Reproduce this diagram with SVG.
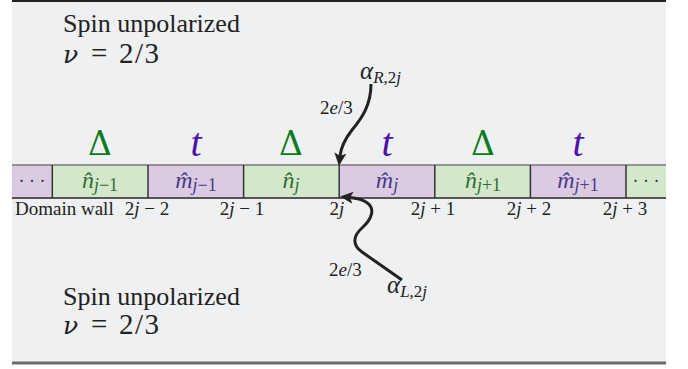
<svg xmlns="http://www.w3.org/2000/svg" width="688" height="369" viewBox="0 0 688 369">
<style>
.serif{font-family:"Liberation Serif","Times New Roman",serif;}
.it{font-style:italic;}
.nu{font-family:"DejaVu Serif",serif;font-style:italic;font-size:25px;}
.big{font-size:26px;fill:#222;}
.delta{font-family:"DejaVu Serif",serif;font-size:33px;fill:#0d7a20;}
.tt{font-size:40px;fill:#4d12a6;font-style:italic;}
.cg{fill:#d3e8cb;}
.cp{fill:#dacbe3;}
.lg{font-size:24px;fill:#336b36;}
.lp{font-size:24px;fill:#4a3a86;}
.sub{font-size:18px;}
.pos{font-size:19px;fill:#222;}
.div{stroke:#333;stroke-width:1.5;}
.arr{fill:none;stroke:#222;stroke-width:3;}
</style>
<defs>
<marker id="ah" markerUnits="userSpaceOnUse" markerWidth="14" markerHeight="12" refX="3" refY="6" orient="auto">
<path d="M0,0 L13,6 L0,12 L3,6 Z" fill="#222"/>
</marker>
</defs>
<rect x="12" y="1" width="654" height="362" fill="#eff0f2"/>
<line x1="12" y1="1" x2="666" y2="1" stroke="#222" stroke-width="2"/>
<line x1="12" y1="363" x2="666" y2="363" stroke="#6b6b6b" stroke-width="3"/>

<g id="top-label" class="serif big">
<text x="63" y="32">Spin unpolarized</text>
<text y="63" font-size="29"><tspan x="63" class="nu">ν</tspan><tspan x="91">=</tspan><tspan x="119" letter-spacing="1.5">2/3</tspan></text>
</g>
<g id="bottom-label" class="serif big">
<text x="63" y="305">Spin unpolarized</text>
<text y="334" font-size="29"><tspan x="63" class="nu">ν</tspan><tspan x="91">=</tspan><tspan x="119" letter-spacing="1.5">2/3</tspan></text>
</g>

<g id="couplings" class="serif" text-anchor="middle">
<text class="delta" x="100" y="155">Δ</text>
<text class="tt" x="196" y="156">t</text>
<text class="delta" x="291" y="155">Δ</text>
<text class="tt" x="387" y="156">t</text>
<text class="delta" x="483" y="155">Δ</text>
<text class="tt" x="578" y="156">t</text>
</g>

<g id="strip">
<rect class="cp" x="12" y="165" width="40.3" height="33"/>
<rect class="cg" x="52.3" y="165" width="95.7" height="33"/>
<rect class="cp" x="148" y="165" width="95.6" height="33"/>
<rect class="cg" x="243.6" y="165" width="95.6" height="33"/>
<rect class="cp" x="339.2" y="165" width="95.6" height="33"/>
<rect class="cg" x="434.8" y="165" width="95.6" height="33"/>
<rect class="cp" x="530.4" y="165" width="95.6" height="33"/>
<rect class="cg" x="626" y="165" width="40" height="33"/>
<line x1="12" y1="165" x2="666" y2="165" stroke="#777" stroke-width="1.5"/>
<line x1="12" y1="198" x2="666" y2="198" stroke="#555" stroke-width="2"/>
<line class="div" x1="52.3" y1="165" x2="52.3" y2="198"/>
<line class="div" x1="148" y1="165" x2="148" y2="198"/>
<line class="div" x1="243.6" y1="165" x2="243.6" y2="198"/>
<line class="div" x1="339.2" y1="165" x2="339.2" y2="198"/>
<line class="div" x1="434.8" y1="165" x2="434.8" y2="198"/>
<line class="div" x1="530.4" y1="165" x2="530.4" y2="198"/>
<line class="div" x1="626" y1="165" x2="626" y2="198"/>
</g>

<g id="cells" class="serif" text-anchor="middle">
<text x="32" y="187" font-size="18" fill="#333">· · ·</text>
<text class="lg" x="100" y="188"><tspan class="it">n̂</tspan><tspan class="sub it" dy="3">j</tspan><tspan class="sub">−1</tspan></text>
<text class="lp" x="196" y="188"><tspan class="it">m̂</tspan><tspan class="sub it" dy="3">j</tspan><tspan class="sub">−1</tspan></text>
<text class="lg" x="291" y="188"><tspan class="it">n̂</tspan><tspan class="sub it" dy="3">j</tspan></text>
<text class="lp" x="387" y="188"><tspan class="it">m̂</tspan><tspan class="sub it" dy="3">j</tspan></text>
<text class="lg" x="483" y="188"><tspan class="it">n̂</tspan><tspan class="sub it" dy="3">j</tspan><tspan class="sub">+1</tspan></text>
<text class="lp" x="578" y="188"><tspan class="it">m̂</tspan><tspan class="sub it" dy="3">j</tspan><tspan class="sub">+1</tspan></text>
<text x="646" y="187" font-size="18" fill="#333">· · ·</text>
</g>

<g id="positions" class="serif pos">
<text x="15" y="215">Domain wall</text>
<g text-anchor="middle">
<text x="147" y="215">2<tspan class="it">j</tspan> − 2</text>
<text x="242" y="215">2<tspan class="it">j</tspan> − 1</text>
<text x="337" y="215">2<tspan class="it">j</tspan></text>
<text x="433" y="215">2<tspan class="it">j</tspan> + 1</text>
<text x="529" y="215">2<tspan class="it">j</tspan> + 2</text>
<text x="625" y="215">2<tspan class="it">j</tspan> + 3</text>
</g>
</g>

<g id="alpha-R" class="serif" fill="#222">
<text x="360" y="79" font-size="25" class="it">α<tspan font-size="17" dy="4">R</tspan><tspan font-size="17" font-style="normal">,2</tspan><tspan font-size="17">j</tspan></text>
<text x="320" y="114" font-size="19">2<tspan class="it">e</tspan>/3</text>
</g>
<g id="alpha-L" class="serif" fill="#222">
<text x="387" y="293" font-size="25" class="it">α<tspan font-size="17" dy="4">L</tspan><tspan font-size="17" font-style="normal">,2</tspan><tspan font-size="17">j</tspan></text>
<text x="329" y="276" font-size="19">2<tspan class="it">e</tspan>/3</text>
</g>

<g id="connectors">
<path class="arr" d="M371,84 C371,105 362,118 352,130 C345,139 341,147 340,156" marker-end="url(#ah)"/>
<path class="arr" d="M402,280 L362,252 C352,245 353,236 362,228 C372,219 376,208 366,202 C361,199 355,198 350,197.5" marker-end="url(#ah)"/>
</g>
</svg>
